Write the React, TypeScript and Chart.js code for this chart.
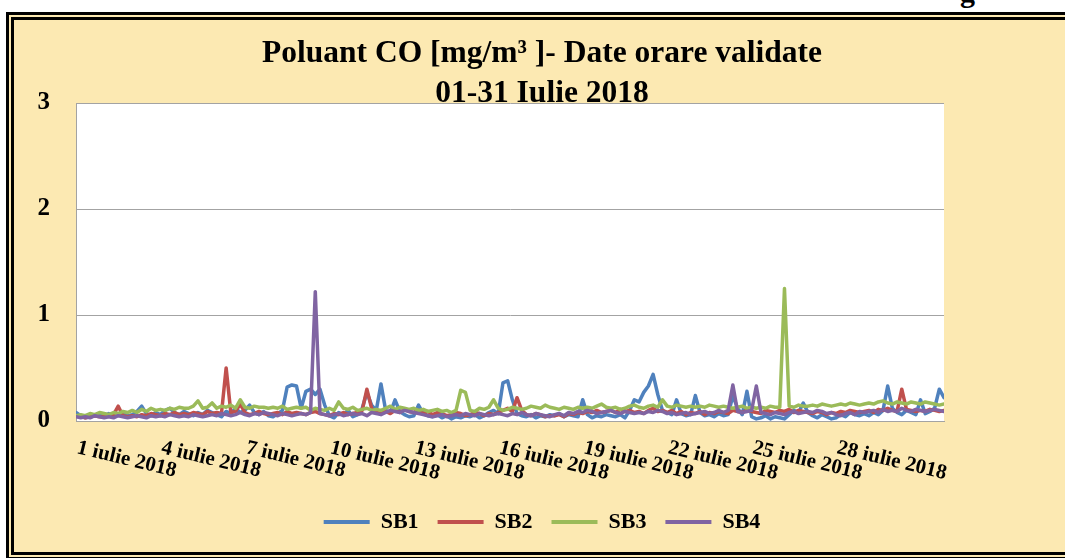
import React, { useEffect, useRef } from "react";
import { Chart, registerables } from "chart.js";

Chart.register(...registerables);

const TITLE_LINES = ["Poluant CO [mg/m³ ]- Date orare validate", "01-31 Iulie 2018"];
const SERIES_NAMES = ["SB1", "SB2", "SB3", "SB4"];
const SERIES_COLORS = ["#4F81BD", "#C0504D", "#9BBB59", "#8064A2"];
const SAMPLES_PER_DAY = 6; // one value every 4 hours
const X_TICK_DAYS = [0, 3, 6, 9, 12, 15, 18, 21, 24, 27];
const X_TICK_LABELS = [
  "1 iulie 2018", "4 iulie 2018", "7 iulie 2018", "10 iulie 2018", "13 iulie 2018",
  "16 iulie 2018", "19 iulie 2018", "22 iulie 2018", "25 iulie 2018", "28 iulie 2018",
];
const Y_MIN = 0;
const Y_MAX = 3;
const Y_STEP = 1;

// values per day (6 readings / day), 1-31 July 2018
const SB1 = [
  0.08, 0.05, 0.03, 0.04, 0.05, 0.06,
  0.05, 0.07, 0.04, 0.06, 0.08, 0.05,
  0.06, 0.09, 0.14, 0.07, 0.05, 0.08,
  0.06, 0.10, 0.12, 0.08, 0.06, 0.09,
  0.07, 0.05, 0.08, 0.06, 0.10, 0.08,
  0.06, 0.04, 0.09, 0.07, 0.12, 0.08,
  0.10, 0.15, 0.08, 0.06, 0.09, 0.05,
  0.04, 0.07, 0.10, 0.32, 0.34, 0.33,
  0.12, 0.28, 0.30, 0.25, 0.30, 0.15,
  0.05, 0.03, 0.08, 0.06, 0.10, 0.04,
  0.06, 0.12, 0.27, 0.15, 0.10, 0.35,
  0.10, 0.08, 0.20, 0.09, 0.06, 0.04,
  0.05, 0.15, 0.07, 0.05, 0.04, 0.06,
  0.03, 0.05, 0.02, 0.04, 0.03, 0.05,
  0.04, 0.06, 0.03, 0.05, 0.08, 0.10,
  0.07, 0.36, 0.38, 0.20, 0.07, 0.05,
  0.04, 0.06, 0.03, 0.05, 0.04, 0.06,
  0.05, 0.07, 0.04, 0.06, 0.05, 0.04,
  0.20, 0.06, 0.03, 0.05, 0.04, 0.06,
  0.05, 0.04, 0.06, 0.03, 0.10, 0.20,
  0.18, 0.27, 0.33, 0.44, 0.25, 0.10,
  0.08, 0.06, 0.20, 0.07, 0.05, 0.06,
  0.24, 0.08, 0.05, 0.06, 0.04, 0.07,
  0.05, 0.06, 0.24, 0.12, 0.06, 0.28,
  0.04, 0.02, 0.03, 0.05, 0.02, 0.04,
  0.03, 0.02, 0.06, 0.10, 0.08, 0.17,
  0.08, 0.05, 0.03, 0.06, 0.04, 0.02,
  0.03, 0.06, 0.04, 0.08, 0.06, 0.05,
  0.07, 0.05, 0.08, 0.06, 0.10, 0.33,
  0.12, 0.08, 0.06, 0.10, 0.08, 0.06,
  0.20, 0.07, 0.09, 0.12, 0.30, 0.22,
];

const SB2 = [
  0.05, 0.04, 0.03, 0.04, 0.05, 0.04,
  0.04, 0.05, 0.06, 0.14, 0.05, 0.04,
  0.05, 0.04, 0.06, 0.05, 0.07, 0.06,
  0.05, 0.07, 0.06, 0.08, 0.06, 0.07,
  0.06, 0.08, 0.07, 0.06, 0.09, 0.07,
  0.08, 0.07, 0.50, 0.08, 0.09, 0.16,
  0.08, 0.06, 0.07, 0.09, 0.07, 0.06,
  0.07, 0.08, 0.06, 0.09, 0.07, 0.08,
  0.07, 0.06, 0.08, 0.09, 0.07, 0.06,
  0.05, 0.07, 0.06, 0.08, 0.06, 0.07,
  0.08, 0.10, 0.30, 0.12, 0.08, 0.07,
  0.09, 0.07, 0.10, 0.08, 0.11, 0.09,
  0.08, 0.10, 0.07, 0.09, 0.06, 0.08,
  0.07, 0.05, 0.06, 0.08, 0.07, 0.05,
  0.06, 0.08, 0.07, 0.05, 0.07, 0.06,
  0.08, 0.10, 0.12, 0.09, 0.22, 0.10,
  0.06, 0.05, 0.07, 0.06, 0.04, 0.05,
  0.05, 0.06, 0.04, 0.07, 0.06, 0.08,
  0.07, 0.09, 0.08, 0.10, 0.08, 0.09,
  0.10, 0.08, 0.11, 0.09, 0.10, 0.08,
  0.09, 0.07, 0.10, 0.12, 0.09, 0.10,
  0.08, 0.10, 0.07, 0.09, 0.06, 0.08,
  0.07, 0.09, 0.06, 0.08, 0.07, 0.09,
  0.08, 0.07, 0.10, 0.09, 0.08, 0.10,
  0.09, 0.08, 0.07, 0.10, 0.09, 0.08,
  0.10, 0.09, 0.11, 0.08, 0.10, 0.09,
  0.08, 0.07, 0.09, 0.08, 0.06, 0.08,
  0.07, 0.09, 0.08, 0.10, 0.09, 0.08,
  0.09, 0.10, 0.08, 0.11, 0.10, 0.12,
  0.10, 0.09, 0.30, 0.11, 0.10, 0.09,
  0.10, 0.09, 0.11, 0.10, 0.09, 0.10,
];

const SB3 = [
  0.05, 0.06, 0.05, 0.07, 0.06, 0.08,
  0.07, 0.06, 0.08, 0.07, 0.09, 0.08,
  0.10, 0.08, 0.11, 0.09, 0.12, 0.10,
  0.11, 0.10, 0.12, 0.11, 0.13, 0.12,
  0.12, 0.14, 0.19, 0.12, 0.13, 0.17,
  0.12, 0.14, 0.13, 0.15, 0.12, 0.20,
  0.13, 0.12, 0.14, 0.13, 0.13, 0.12,
  0.13, 0.12, 0.14, 0.11, 0.12, 0.13,
  0.12, 0.13, 0.10, 0.12, 0.11, 0.10,
  0.12, 0.10, 0.18, 0.12, 0.11, 0.13,
  0.10, 0.11, 0.12, 0.10, 0.11, 0.10,
  0.12, 0.14, 0.11, 0.13, 0.12, 0.11,
  0.12, 0.10, 0.11, 0.09, 0.10, 0.11,
  0.09, 0.10, 0.08, 0.10, 0.29, 0.27,
  0.10, 0.09, 0.12, 0.11, 0.13, 0.20,
  0.12, 0.10, 0.11, 0.13, 0.12, 0.11,
  0.12, 0.14, 0.13, 0.12, 0.15, 0.13,
  0.12, 0.11, 0.13, 0.12, 0.11, 0.13,
  0.12, 0.13, 0.12, 0.14, 0.16, 0.13,
  0.12, 0.13, 0.11, 0.12, 0.14, 0.15,
  0.13, 0.12, 0.14, 0.15, 0.13, 0.20,
  0.14, 0.13, 0.15, 0.14, 0.13, 0.14,
  0.13, 0.14, 0.13, 0.15, 0.14, 0.13,
  0.14, 0.13, 0.12, 0.13, 0.14, 0.12,
  0.13, 0.12, 0.13, 0.12, 0.14, 0.13,
  0.13, 1.25, 0.14, 0.13, 0.15, 0.14,
  0.14, 0.15, 0.14, 0.16, 0.15, 0.14,
  0.15, 0.16, 0.15, 0.17, 0.16, 0.15,
  0.16, 0.17, 0.16, 0.18, 0.19, 0.17,
  0.16, 0.18, 0.17, 0.16, 0.18, 0.17,
  0.16, 0.18, 0.17, 0.16, 0.15, 0.16,
];

const SB4 = [
  0.04, 0.03, 0.04, 0.03, 0.05, 0.04,
  0.03, 0.04, 0.03, 0.05, 0.04, 0.03,
  0.04, 0.05, 0.04, 0.03, 0.05, 0.04,
  0.05, 0.04, 0.06, 0.05, 0.04, 0.05,
  0.04, 0.06, 0.05, 0.04, 0.05, 0.06,
  0.05, 0.07, 0.06, 0.05, 0.06, 0.08,
  0.06, 0.05, 0.07, 0.06, 0.08, 0.07,
  0.06, 0.05, 0.07, 0.06, 0.05, 0.06,
  0.07, 0.06, 0.08, 1.22, 0.07, 0.06,
  0.05, 0.06, 0.07, 0.05, 0.06, 0.07,
  0.06, 0.07, 0.05, 0.08, 0.07, 0.06,
  0.08, 0.10, 0.09, 0.08, 0.10, 0.09,
  0.08, 0.07, 0.06, 0.05, 0.04, 0.05,
  0.06, 0.04, 0.05, 0.06, 0.05, 0.07,
  0.06, 0.05, 0.07, 0.06, 0.05, 0.06,
  0.07, 0.06, 0.05, 0.07, 0.06, 0.08,
  0.06, 0.05, 0.07, 0.06, 0.05, 0.04,
  0.06, 0.07, 0.05, 0.08, 0.07, 0.09,
  0.08, 0.10, 0.09, 0.07, 0.08, 0.09,
  0.10, 0.08, 0.07, 0.09, 0.08, 0.07,
  0.08, 0.07, 0.09, 0.08, 0.10, 0.09,
  0.07, 0.08, 0.06, 0.07, 0.08, 0.06,
  0.07, 0.08, 0.09, 0.07, 0.08, 0.10,
  0.08, 0.10, 0.34, 0.09, 0.08, 0.09,
  0.10, 0.33, 0.08, 0.07, 0.06, 0.08,
  0.07, 0.06, 0.08, 0.09, 0.07, 0.08,
  0.09, 0.08, 0.10, 0.09, 0.07, 0.08,
  0.06, 0.05, 0.07, 0.08, 0.06, 0.09,
  0.08, 0.09, 0.10, 0.08, 0.11, 0.09,
  0.10, 0.09, 0.12, 0.10, 0.09, 0.11,
  0.10, 0.09, 0.10, 0.11, 0.10, 0.09,
];

const SERIES_VALUES = [SB1, SB2, SB3, SB4];

const FONT = "'Liberation Serif', 'Times New Roman', serif";
const BEIGE = "rgb(252, 233, 178)";
const GRID = "#A3A3A3";

const plotBackground = {
  id: "plotBackground",
  beforeDraw(chart: any) {
    const { ctx, chartArea } = chart;
    ctx.save();
    ctx.fillStyle = "#ffffff";
    ctx.fillRect(chartArea.left, chartArea.top, chartArea.right - chartArea.left, chartArea.bottom - chartArea.top);
    ctx.restore();
  },
};

const slantedXLabels = {
  id: "slantedXLabels",
  afterDraw(chart: any) {
    const { ctx, scales, chartArea } = chart;
    const xs = scales.x;
    ctx.save();
    ctx.fillStyle = "#000";
    ctx.font = `bold 21px ${FONT}`;
    ctx.textAlign = "left";
    ctx.textBaseline = "alphabetic";
    X_TICK_DAYS.forEach((d, i) => {
      const px = xs.getPixelForValue(d);
      ctx.save();
      ctx.translate(px, chartArea.bottom + 32);
      ctx.rotate((13.5 * Math.PI) / 180);
      ctx.fillText(X_TICK_LABELS[i], 0, 0);
      ctx.restore();
    });
    ctx.restore();
  },
};

export default function App() {
  const canvasRef = useRef<HTMLCanvasElement | null>(null);

  useEffect(() => {
    document.body.style.margin = "0";
    const canvas = canvasRef.current;
    if (!canvas) return;

    const datasets = SERIES_NAMES.map((name, s) => ({
      label: name,
      data: SERIES_VALUES[s].map((v, i) => ({ x: i / SAMPLES_PER_DAY, y: v })),
      borderColor: SERIES_COLORS[s],
      backgroundColor: SERIES_COLORS[s],
      borderWidth: 3.5,
      borderJoinStyle: "round",
      borderCapStyle: "round",
      pointRadius: 0,
      tension: 0,
      fill: false,
      order: SERIES_NAMES.length - s,
      yAxisID: "y",
    }));

    const chart = new Chart(canvas, {
      type: "line",
      data: { datasets },
      plugins: [plotBackground, slantedXLabels],
      options: {
        responsive: false,
        animation: false,
        devicePixelRatio: 1,
        layout: { padding: { left: 19, right: 0, top: 0, bottom: 15 } },
        scales: {
          x: {
            type: "linear",
            min: 0,
            max: (SB1.length - 1) / SAMPLES_PER_DAY,
            ticks: { display: false },
            grid: { display: false, drawTicks: false },
            border: { display: true, color: GRID, width: 1 },
            afterFit: (s: any) => { s.height = 71; },
          },
          y: {
            type: "linear",
            position: "left",
            min: Y_MIN,
            max: Y_MAX,
            ticks: {
              stepSize: Y_STEP,
              color: "#000",
              padding: 26,
              font: { family: FONT, size: 25, weight: "bold" },
            },
            grid: { color: GRID, drawTicks: false, lineWidth: 1 },
            border: { display: true, color: GRID, width: 1 },
            afterFit: (s: any) => { s.width = 57; },
          },
          yRight: {
            type: "linear",
            position: "right",
            display: true,
            ticks: { display: false },
            grid: { display: false, drawTicks: false },
            border: { display: false },
            afterFit: (s: any) => { s.width = 121; },
          },
        },
        plugins: {
          title: {
            display: true,
            text: TITLE_LINES,
            color: "#000",
            font: { family: FONT, size: 31.5, weight: "bold", lineHeight: 40 / 31.5 },
            padding: { top: 34, bottom: -11 },
          },
          legend: {
            display: true,
            position: "bottom",
            labels: {
              color: "#000",
              font: { family: FONT, size: 22, weight: "bold" },
              usePointStyle: true,
              pointStyle: "line",
              pointStyleWidth: 46,
              padding: 19,
              sort: (a: any, b: any) => a.datasetIndex - b.datasetIndex,
              generateLabels: (c: any) =>
                (Chart.defaults.plugins.legend.labels.generateLabels as any)(c).map((l: any) => ({
                  ...l,
                  lineWidth: 4,
                  pointStyle: "line",
                })),
            },
          },
          tooltip: { enabled: false },
        },
      },
    } as any);

    return () => chart.destroy();
  }, []);

  return (
    <div style={{ position: "relative", width: 1065, height: 558, overflow: "hidden", background: "#fff" }}>
      <div
        style={{
          position: "absolute",
          left: 960,
          top: -23,
          font: `bold 30px ${FONT}`,
          lineHeight: "30px",
          color: "#000",
        }}
      >
        g
      </div>
      <div
        style={{
          position: "absolute",
          left: 6,
          top: 12,
          width: 1080,
          height: 548,
          boxSizing: "border-box",
          border: "8px double #000",
          background: BEIGE,
        }}
      />
      <canvas
        ref={canvasRef}
        width={1065}
        height={558}
        style={{ position: "absolute", left: 0, top: 0, width: 1065, height: 558 }}
      />
    </div>
  );
}
